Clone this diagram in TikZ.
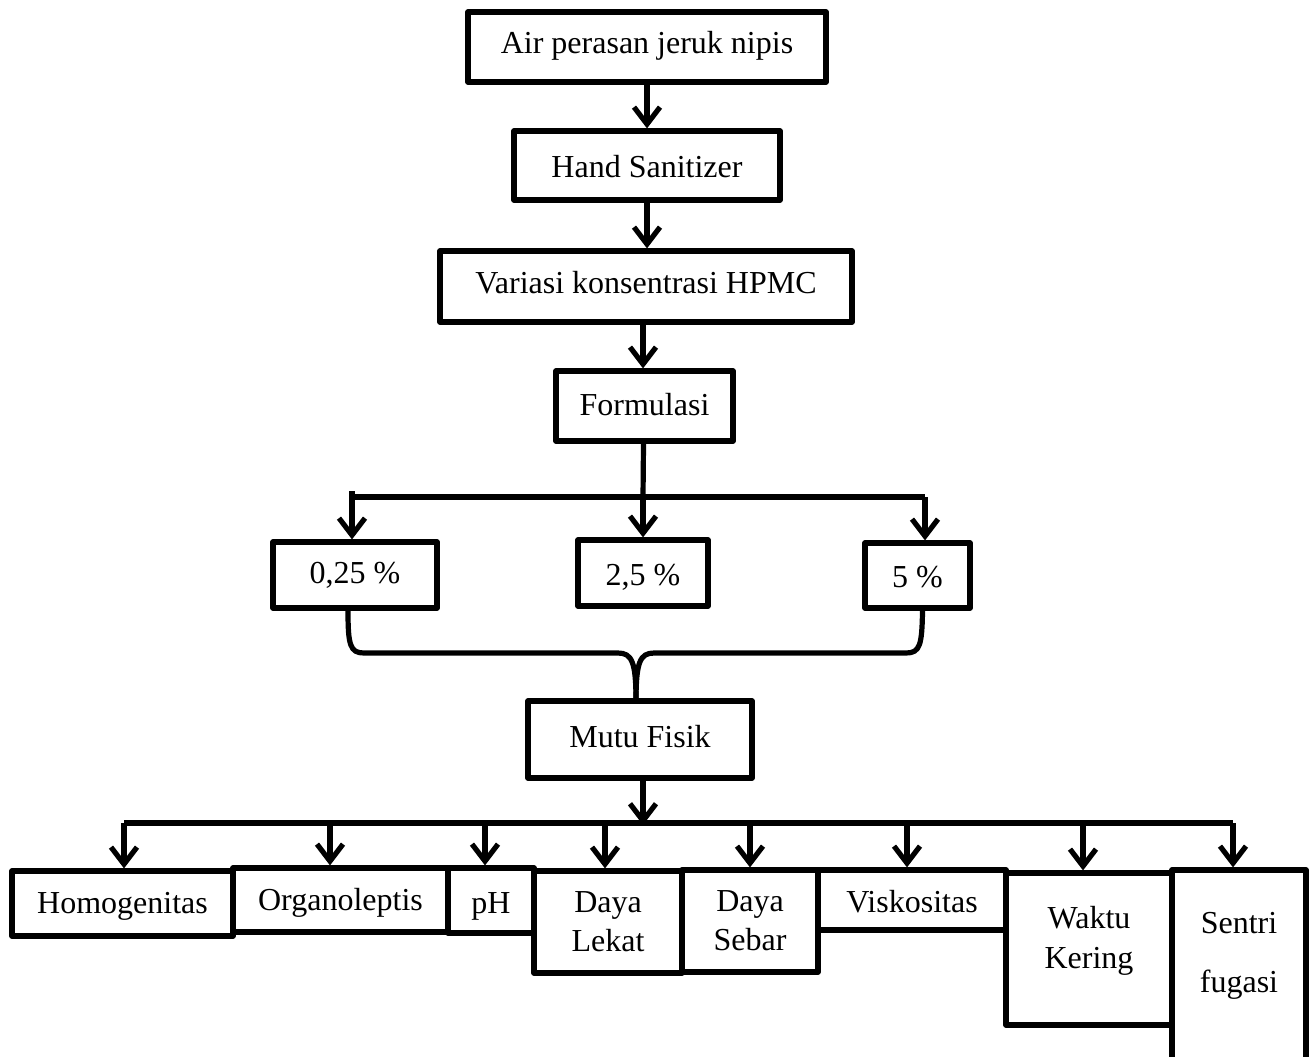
\documentclass[tikz,border=0pt]{standalone}
\usepackage{fontspec}
\setmainfont{Liberation Serif}
\usetikzlibrary{arrows.meta}
\begin{document}
\begin{tikzpicture}[x=0.5pt,y=-0.5pt,line width=2.6pt,line join=round,
  box/.style={draw,line width=2.6pt,inner sep=0pt,font=\fontsize{16}{19}\selectfont,align=center},
  one/.style={text height=#1,text depth=3.5pt},
  lbl/.style={inner sep=0pt,font=\fontsize{16}{19}\selectfont,align=center},
  arr/.style={-{Straight Barb[length=8.5pt,width=13pt]}}]
\useasboundingbox (0,0) rectangle (1310,1056);
% top chain
\node[box,one=9.5pt,minimum width=179pt,minimum height=35pt] (air) at (647,47) {Air perasan jeruk nipis};
\node[box,one=15pt,minimum width=133pt,minimum height=34.5pt] (hand) at (647,165.5) {Hand Sanitizer};
\node[box,one=10pt,minimum width=206pt,minimum height=35.5pt] (var) at (646,286.5) {Variasi konsentrasi HPMC};
\node[box,one=12.5pt,minimum width=88.5pt,minimum height=35pt] (form) at (644.5,406) {Formulasi};
% concentrations
\node[box,one=11.5pt,minimum width=82pt,minimum height=33pt] (p025) at (355,575) {0,25 \%};
\node[box,one=15.5pt,minimum width=65pt,minimum height=33pt] (p25) at (643,573) {2,5 \%};
\node[box,one=15pt,minimum width=52.5pt,minimum height=32.5pt] (p5) at (917.5,575.5) {5 \%};
\node[box,one=11.5pt,minimum width=112pt,minimum height=38.5pt] (mutu) at (640,739.5) {Mutu Fisik};
% bottom boxes
\node[box,one=13pt,minimum width=110.5pt,minimum height=32.5pt] (homo) at (122.5,903.5) {Homogenitas};
\node[box,one=13.5pt,minimum width=107.5pt,minimum height=32pt] (organo) at (340.5,900) {Organoleptis};
\node[box,one=16pt,minimum width=43pt,minimum height=32.5pt] (ph) at (491,900.5) {pH};
\node[box,font=\fontsize{16}{19.5}\selectfont,minimum width=74pt,minimum height=51pt] (lekat) at (608,922) {Daya\\Lekat};
\node[box,font=\fontsize{16}{19.5}\selectfont,minimum width=68pt,minimum height=51pt] (sebar) at (750,921) {Daya\\Sebar};
\node[box,one=15.5pt,minimum width=94pt,minimum height=30pt] (visko) at (912,900) {Viskositas};
\node[box,minimum width=83pt,minimum height=76pt] (waktu) at (1089,949) {};
\node[lbl,font=\fontsize{16}{20}\selectfont] (twaktu) at (1089,941) {Waktu\\Kering};
\node[box,minimum width=67pt,minimum height=105pt] (sentri) at (1239,975) {};
\node[lbl,font=\fontsize{16}{29.5}\selectfont] (tsentri) at (1239,956) {Sentri\\fugasi};
% connectors top
\draw[arr] (air.south) -- (air.south |- hand.north);
\draw[arr] (hand.south) -- (hand.south |- var.north);
\draw[arr] ([xshift=-1.5pt]var.south) -- ([xshift=-1.5pt]var.south |- form.north);
% formulasi split
\coordinate (bl) at (352,497);
\coordinate (bm) at (643,497);
\coordinate (br) at (925,497);
\draw ([xshift=-0.5pt]form.south) -- (bm);
\draw (bl) -- (br);
\draw[arr] ([yshift=3pt]bl) -- (bl |- p025.north);
\draw[arr] (bm) -- (bm |- p25.north);
\draw[arr] (br) -- (br |- p5.north);
% brace
\coordinate (jn) at (636,701);
\draw ([xshift=-3.5pt]p025.south) .. controls (348,645) and (350,653) .. (364,653) -- (618,653) .. controls (632,653) and (636,662) .. (jn);
\draw ([xshift=2.5pt]p5.south) .. controls (922,645) and (920,653) .. (906,653) -- (654,653) .. controls (640,653) and (636,662) .. (jn);
% mutu fisik split
\coordinate (m0) at (643,823);
\coordinate (a1) at (124,823);
\coordinate (a2) at (330,823);
\coordinate (a3) at (485,823);
\coordinate (a4) at (605,823);
\coordinate (a5) at (750,823);
\coordinate (a6) at (907,823);
\coordinate (a7) at (1083,823);
\coordinate (a8) at (1233,823);
\draw[arr] ([xshift=1.5pt]mutu.south) -- ([yshift=-1pt]m0);
\draw (a1) -- (a8);
\draw[arr] (a1) -- (a1 |- homo.north);
\draw[arr] (a2) -- (a2 |- organo.north);
\draw[arr] (a3) -- (a3 |- ph.north);
\draw[arr] (a4) -- (a4 |- lekat.north);
\draw[arr] (a5) -- (a5 |- sebar.north);
\draw[arr] (a6) -- (a6 |- visko.north);
\draw[arr] (a7) -- (a7 |- waktu.north);
\draw[arr] (a8) -- (a8 |- sentri.north);
\end{tikzpicture}
\end{document}
